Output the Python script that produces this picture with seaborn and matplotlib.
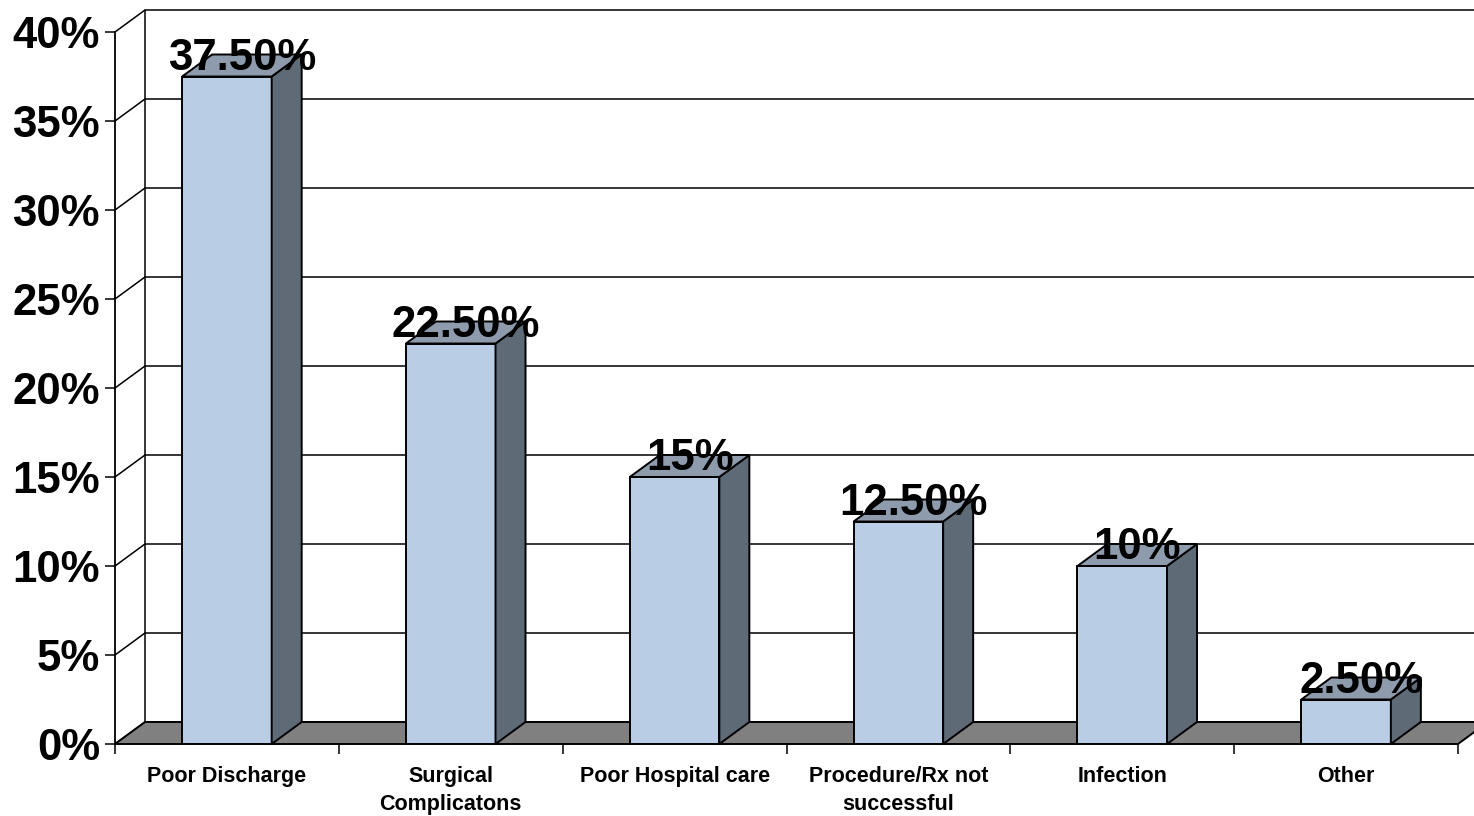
import matplotlib
matplotlib.use("Agg")
import matplotlib.pyplot as plt
import seaborn as sns
import pandas as pd
from matplotlib.patches import Polygon
from matplotlib.ticker import FixedLocator, FuncFormatter

# Readmission causes and their shares (%)
categories = [
    "Poor Discharge",
    "Surgical\nComplicatons",
    "Poor Hospital care",
    "Procedure/Rx not\nsuccessful",
    "Infection",
    "Other",
]
values = [37.5, 22.5, 15, 12.5, 10, 2.5]
value_labels = ["37.50%", "22.50%", "15%", "12.50%", "10%", "2.50%"]
y_ticks = [0, 5, 10, 15, 20, 25, 30, 35, 40]

FRONT = "#B9CDE5"
SIDE = "#5F6A77"
TOP = "#8E9BAD"
FLOOR = "#808080"

sns.set_style("white")
plt.rcParams["font.family"] = ["Liberation Sans", "DejaVu Sans"]
plt.rcParams["font.weight"] = "bold"
plt.rcParams["text.color"] = "black"
plt.rcParams["xtick.color"] = "black"
plt.rcParams["ytick.color"] = "black"
plt.rcParams["xtick.labelcolor"] = "black"
plt.rcParams["ytick.labelcolor"] = "black"

W, H, DPI = 1474, 816, 100
fig = plt.figure(figsize=(W / DPI, H / DPI), dpi=DPI)
L, R, B, T = 115, 1458, 744, 32
ax = fig.add_axes([L / W, 1 - B / H, (R - L) / W, (B - T) / H])

df = pd.DataFrame({"cause": categories, "share": values})
sns.barplot(data=df, x="cause", y="share", color=FRONT, saturation=1,
            width=0.4, edgecolor="black", linewidth=1.4, ax=ax, zorder=3)

ax.set_xlim(-0.5, len(categories) - 0.5)
ax.set_ylim(0, 40)
ax.grid(False)
ax.set_xlabel("")
ax.set_ylabel("")

# depth of the 3-D box, in data units (30 px right, 22 px up)
dx = 30 / (R - L) * len(categories)
dy = 22 / (B - T) * 40
x_lo, x_hi = -0.5, len(categories) - 0.5

bars = list(ax.patches)

# back wall gridlines and left-wall diagonals
for t in y_ticks:
    ax.plot([x_lo, x_lo + dx, x_hi + dx], [t, t + dy, t + dy],
            color="black", lw=1.1, clip_on=False, zorder=0)
ax.plot([x_lo + dx, x_lo + dx], [dy, 40 + dy], color="black", lw=1.1,
        clip_on=False, zorder=0)

# floor
ax.add_patch(Polygon([(x_lo, 0), (x_hi, 0), (x_hi + dx, dy), (x_lo + dx, dy)],
                     closed=True, facecolor=FLOOR, edgecolor="black", lw=1.4,
                     clip_on=False, zorder=1))

# side and top faces of each bar, plus value labels
for p, lbl in zip(bars, value_labels):
    x0, w, h = p.get_x(), p.get_width(), p.get_height()
    x1 = x0 + w
    side = [(x1, 0), (x1, h), (x1 + dx, h + dy), (x1 + dx, dy)]
    top = [(x0, h), (x1, h), (x1 + dx, h + dy), (x0 + dx, h + dy)]
    ax.add_patch(Polygon(side, closed=True, facecolor=SIDE, edgecolor="black",
                         lw=1.4, zorder=3, clip_on=False))
    ax.add_patch(Polygon(top, closed=True, facecolor=TOP, edgecolor="black",
                         lw=1.4, zorder=3, clip_on=False))
    ax.annotate(lbl, xy=(x0 + w / 2, h), xytext=(10.8, 5),
                textcoords="offset points", ha="center", va="baseline",
                fontsize=31.5, fontweight="bold", color="black", zorder=6,
                annotation_clip=False)

# axes styling
for s in ["top", "right", "bottom"]:
    ax.spines[s].set_visible(False)
ax.spines["left"].set_color("black")
ax.spines["left"].set_linewidth(1.3)

ax.yaxis.set_major_locator(FixedLocator(y_ticks))
ax.yaxis.set_major_formatter(FuncFormatter(lambda v, _: f"{v:.0f}%"))
ax.tick_params(axis="y", left=True, direction="out", length=7.2, width=1.1,
               pad=3.6, labelsize=31.5, color="black", labelcolor="black")

ax.set_xticks(range(len(categories)))
ax.set_xticklabels(categories, fontsize=15.5, fontweight="bold")
ax.set_xticks([i - 0.5 for i in range(len(categories) + 1)], minor=True)
ax.tick_params(axis="x", which="major", bottom=True, length=0, pad=16,
               labelcolor="black")
ax.tick_params(axis="x", which="minor", bottom=True, direction="out",
               length=7.2, width=1.1, color="black")
for t in ax.get_xticklabels():
    t.set_linespacing(1.42)
for t in ax.get_yticklabels():
    t.set_fontweight("bold")

fig.savefig("out.png", dpi=DPI)
